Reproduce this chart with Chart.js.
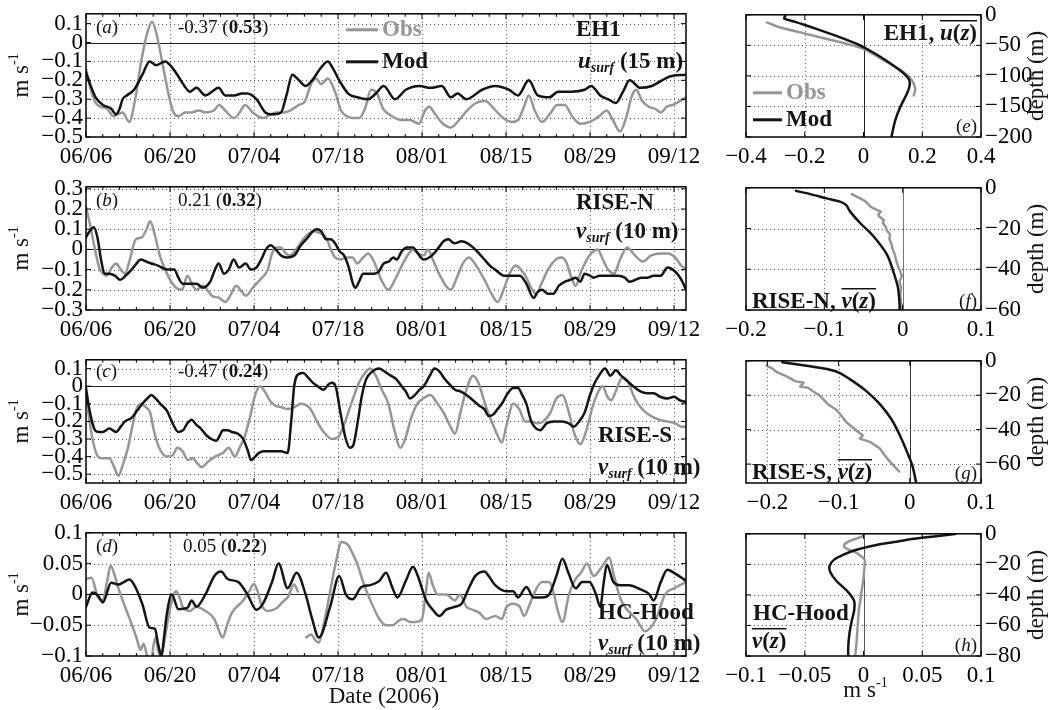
<!DOCTYPE html>
<html><head><meta charset="utf-8">
<script src="https://cdn.jsdelivr.net/npm/chart.js@4.4.1/dist/chart.umd.min.js"></script>
<style>
html,body{margin:0;padding:0;background:#fff;}
#wrap{position:relative;width:1060px;height:710px;overflow:hidden;background:#fff;}
canvas{position:absolute;}
</style></head><body><div id="wrap"></div>
<script>
const SERIF = '"Liberation Serif","Times New Roman",Times,serif';
const GRAY = 'rgb(150,150,150)';
const BLACK = 'rgb(20,20,20)';

// ---------- tick values / labels ----------
const dateTickDays = [0,14,28,42,56,70,84,98];
const dateTickLabels = ['06/06','06/20','07/04','07/18','08/01','08/15','08/29','09/12'];
const yTicksA = [0.1,0,-0.1,-0.2,-0.3,-0.4,-0.5];
const yTicksB = [0.3,0.2,0.1,0,-0.1,-0.2,-0.3];
const yTicksC = [0.1,0,-0.1,-0.2,-0.3,-0.4,-0.5];
const yTicksD = [0.1,0.05,0,-0.05,-0.1];
const velTicksE = [-0.4,-0.2,0,0.2,0.4];
const velTicksF = [-0.2,-0.1,0,0.1];
const velTicksG = [-0.2,-0.1,0,0.1];
const velTicksH = [-0.1,-0.05,0,0.05,0.1];
const depthTicksE = [0,-50,-100,-150,-200];
const depthTicksF = [0,-20,-40,-60];
const depthTicksG = [0,-20,-40,-60];
const depthTicksH = [0,-20,-40,-60,-80];

// ---------- time series: [day since 06/06, m/s] ----------
const obsA = [[0,-0.14],[0.8,-0.25],[1.6,-0.32],[2.5,-0.34],[3.5,-0.35],[4.6,-0.39],[5.3,-0.38],[6.1,-0.37],[7.2,-0.42],[8.2,-0.3],[9.2,-0.1],[10.2,0.05],[11,0.11],[11.8,0.04],[12.8,-0.12],[13.8,-0.28],[14.6,-0.37],[15.4,-0.39],[16.5,-0.37],[17.5,-0.37],[18.8,-0.36],[20,-0.37],[21.3,-0.36],[22.2,-0.33],[23.2,-0.36],[24.7,-0.4],[25.6,-0.37],[26.5,-0.33],[27.8,-0.37],[29.5,-0.4],[30.8,-0.38],[31.8,-0.37],[33,-0.37],[34,-0.36],[35.5,-0.33],[36.5,-0.31],[37.5,-0.22],[38.3,-0.19],[39.2,-0.22],[40.3,-0.19],[41.5,-0.26],[42.5,-0.36],[43.5,-0.39],[44.5,-0.4],[45.5,-0.4],[46.5,-0.35],[47.5,-0.25],[48.5,-0.27],[49.5,-0.35],[51,-0.39],[52.6,-0.41],[54,-0.41],[55.5,-0.43],[56.5,-0.36],[57.2,-0.34],[58.2,-0.38],[59.5,-0.43],[60.8,-0.45],[62.2,-0.41],[63.5,-0.36],[65,-0.32],[66.5,-0.31],[68,-0.35],[69.5,-0.4],[71,-0.42],[72,-0.41],[73,-0.34],[73.8,-0.28],[74.8,-0.36],[76,-0.42],[77.5,-0.37],[78.5,-0.33],[79.8,-0.33],[81,-0.39],[82.4,-0.43],[84,-0.42],[85.5,-0.39],[86.8,-0.36],[87.8,-0.41],[89,-0.47],[90,-0.4],[91,-0.28],[91.7,-0.25],[92.7,-0.31],[93.8,-0.34],[94.8,-0.35],[95.8,-0.37],[96.8,-0.34],[97.8,-0.33],[99,-0.31],[100,-0.29]];
const modA = [[0,-0.16],[0.8,-0.23],[1.6,-0.29],[2.8,-0.33],[4.2,-0.35],[5,-0.38],[5.6,-0.35],[6.1,-0.3],[6.8,-0.28],[8,-0.25],[9.4,-0.17],[10.6,-0.1],[11.7,-0.12],[13.2,-0.1],[14.3,-0.13],[15.4,-0.18],[16.4,-0.23],[17.3,-0.26],[18.4,-0.24],[19.9,-0.28],[21,-0.26],[22.1,-0.24],[23.2,-0.28],[24.7,-0.28],[26,-0.27],[26.9,-0.27],[28.4,-0.3],[29.9,-0.37],[31,-0.38],[32.5,-0.37],[33.4,-0.28],[34.4,-0.17],[35.5,-0.2],[36.6,-0.23],[37.7,-0.2],[39,-0.14],[40.3,-0.1],[41.2,-0.14],[42.2,-0.2],[43.7,-0.27],[45.2,-0.29],[47,-0.3],[48.3,-0.27],[49.6,-0.23],[51.5,-0.3],[53.3,-0.25],[55.6,-0.23],[57.4,-0.24],[59.3,-0.23],[60.8,-0.29],[61.9,-0.27],[63.4,-0.3],[66,-0.25],[68.2,-0.23],[70.5,-0.25],[72,-0.28],[73.8,-0.2],[75.3,-0.28],[77.2,-0.29],[78.7,-0.26],[80.9,-0.26],[83.1,-0.25],[84.2,-0.23],[85.7,-0.28],[87,-0.3],[88.3,-0.32],[89.5,-0.26],[90.6,-0.2],[92.4,-0.24],[94.3,-0.23],[96,-0.2],[97.3,-0.18],[100,-0.17]];
const obsB = [[0,0.21],[0.7,0.12],[1.5,0.0],[2.2,-0.09],[2.8,-0.12],[3.5,-0.13],[4.3,-0.09],[5,-0.07],[5.8,-0.1],[6.5,-0.12],[7.3,-0.05],[8.3,0.05],[9.3,0.06],[10.1,0.1],[10.7,0.14],[11.4,0.08],[12.3,-0.03],[13.2,-0.1],[14,-0.15],[15,-0.19],[16,-0.2],[16.9,-0.13],[17.8,-0.18],[18.4,-0.2],[19.5,-0.18],[21,-0.23],[22.2,-0.24],[23.2,-0.26],[24.2,-0.22],[25,-0.18],[26,-0.21],[26.6,-0.23],[27.8,-0.19],[29,-0.15],[30.3,-0.1],[31,-0.02],[31.8,0.01],[32.5,0.01],[33.3,-0.02],[34,-0.03],[35,0.0],[36.2,0.05],[37.2,0.08],[38,0.09],[39,0.08],[40,0.06],[40.8,0.0],[41.5,-0.04],[42.5,-0.05],[43.3,-0.04],[44.4,-0.04],[45.2,-0.07],[46.2,-0.04],[47,-0.02],[48,-0.06],[49.2,-0.15],[50.4,-0.2],[51.5,-0.15],[52.8,-0.07],[53.8,-0.02],[54.5,0.0],[55.4,-0.02],[56.3,-0.03],[57,0.0],[57.8,-0.05],[59,-0.13],[60.8,-0.2],[61.8,-0.14],[62.8,-0.07],[63.8,-0.04],[64.8,-0.07],[66.4,-0.15],[67.6,-0.22],[68.6,-0.26],[69.6,-0.2],[70.6,-0.12],[71.6,-0.08],[72.5,-0.1],[73.4,-0.14],[74.2,-0.19],[75,-0.22],[75.9,-0.17],[77,-0.1],[78.3,-0.05],[79.2,-0.04],[80,-0.06],[80.8,-0.13],[81.6,-0.18],[82.5,-0.11],[83.9,-0.03],[85.3,0.0],[86,-0.04],[87,-0.1],[88,-0.12],[89,-0.05],[90.2,0.01],[91.2,-0.02],[92.8,-0.06],[94.2,-0.03],[95.8,-0.02],[97,-0.02],[98.2,-0.04],[99.2,-0.08],[100,-0.1]];
const modB = [[0,0.06],[0.6,0.09],[1.3,0.11],[1.9,0.06],[2.5,-0.05],[3.1,-0.12],[3.9,-0.12],[4.8,-0.13],[5.7,-0.15],[6.6,-0.13],[7.6,-0.1],[8.4,-0.07],[9.1,-0.05],[10,-0.06],[10.9,-0.07],[12,-0.08],[13.5,-0.1],[14.7,-0.1],[15.4,-0.14],[16.1,-0.17],[17.3,-0.17],[18.4,-0.17],[19.5,-0.19],[20.7,-0.16],[21.5,-0.1],[22.1,-0.07],[23,-0.12],[23.8,-0.1],[24.6,-0.05],[25.5,-0.09],[26.6,-0.07],[27.5,-0.1],[28.4,-0.09],[29.2,-0.05],[30,0.0],[30.8,0.02],[31.6,0.0],[32.5,-0.03],[33.5,-0.04],[34.7,-0.03],[35.8,0.02],[37,0.06],[37.8,0.09],[38.5,0.1],[39.2,0.09],[40,0.05],[40.8,0.05],[41.5,0.03],[42.3,-0.01],[43,-0.03],[43.8,-0.09],[44.5,-0.17],[44.9,-0.19],[45.5,-0.16],[46.2,-0.12],[47,-0.12],[48,-0.12],[48.8,-0.11],[49.6,-0.07],[50.5,-0.06],[51.2,-0.04],[51.8,-0.05],[52.6,-0.01],[53.5,0.01],[54.5,0.01],[55.3,-0.02],[56.3,-0.05],[57.2,-0.04],[58,-0.02],[58.8,0.01],[59.6,0.04],[60.4,0.05],[61.4,0.03],[62.6,0.04],[63.6,0.03],[64.5,0.01],[65.5,-0.02],[66.4,-0.05],[67.3,-0.08],[68.2,-0.1],[69.7,-0.13],[71,-0.13],[72.3,-0.13],[73.4,-0.17],[74.6,-0.24],[75.3,-0.21],[76,-0.2],[77,-0.22],[77.9,-0.22],[78.8,-0.18],[79.8,-0.16],[80.8,-0.15],[81.6,-0.14],[82.4,-0.16],[83.1,-0.12],[84,-0.13],[84.6,-0.14],[85.6,-0.13],[86.8,-0.13],[87.7,-0.13],[88.7,-0.13],[89.8,-0.14],[90.6,-0.16],[91.6,-0.15],[92.6,-0.14],[93.6,-0.14],[94.6,-0.13],[95.8,-0.13],[96.9,-0.09],[97.8,-0.1],[98.8,-0.13],[99.4,-0.16],[100,-0.2]];
const obsC = [[0,-0.05],[0.6,-0.2],[1.2,-0.32],[2,-0.4],[2.8,-0.41],[3.9,-0.41],[4.7,-0.46],[5.4,-0.51],[6.1,-0.45],[7,-0.35],[7.6,-0.25],[8.4,-0.13],[9.2,-0.1],[10,-0.12],[10.7,-0.15],[11.3,-0.25],[12.2,-0.35],[13.5,-0.4],[14.5,-0.39],[15.2,-0.35],[16.1,-0.37],[17,-0.42],[17.8,-0.41],[18.6,-0.44],[19.3,-0.46],[20.3,-0.43],[21.5,-0.4],[22.8,-0.38],[23.8,-0.35],[24.8,-0.4],[25.6,-0.35],[26.5,-0.28],[27.3,-0.18],[28.1,-0.06],[29,0.0],[29.8,-0.03],[30.6,-0.08],[31.5,-0.11],[32.6,-0.12],[33.6,-0.13],[34.7,-0.12],[35.8,-0.1],[36.8,-0.11],[37.6,-0.14],[38.5,-0.2],[39.6,-0.26],[41,-0.3],[42,-0.29],[43,-0.22],[44.2,-0.1],[45.5,0.02],[46.6,0.08],[47.4,0.1],[48.3,0.06],[49.3,-0.02],[50.4,-0.1],[51.4,-0.25],[52.4,-0.35],[53.2,-0.3],[54.2,-0.18],[55.2,-0.1],[56.2,-0.07],[57.4,-0.05],[58.4,-0.09],[59.6,-0.15],[60.6,-0.22],[61.5,-0.27],[62.4,-0.15],[63.4,-0.02],[64.5,0.06],[65.4,0.02],[66.5,-0.1],[67.6,-0.2],[68.6,-0.28],[69.3,-0.32],[70.1,-0.22],[71.2,-0.1],[72.2,-0.13],[73.2,-0.2],[74.2,-0.2],[75.2,-0.21],[76.2,-0.2],[77.4,-0.15],[78.4,-0.07],[79.4,-0.05],[80.4,-0.14],[81.4,-0.27],[82.4,-0.33],[83.4,-0.25],[84.4,-0.12],[85.4,-0.03],[86.1,0.0],[86.9,-0.06],[87.5,-0.08],[88.4,-0.02],[89.4,0.05],[90.4,0.02],[91.2,-0.05],[92,-0.1],[93,-0.14],[94.2,-0.17],[95.5,-0.19],[96.8,-0.2],[98.2,-0.21],[99.2,-0.23],[100,-0.23]];
const modC = [[0,-0.01],[0.5,-0.12],[1,-0.2],[1.5,-0.25],[2.2,-0.26],[2.8,-0.26],[3.9,-0.24],[5,-0.26],[5.8,-0.23],[6.5,-0.2],[7.6,-0.18],[8.5,-0.14],[9.4,-0.1],[10.2,-0.07],[10.9,-0.05],[11.6,-0.07],[12.4,-0.1],[13.5,-0.14],[14.3,-0.2],[15.4,-0.26],[16.2,-0.25],[16.9,-0.21],[17.6,-0.19],[18.4,-0.22],[19.1,-0.24],[20.1,-0.28],[20.9,-0.3],[21.7,-0.31],[22.3,-0.28],[22.8,-0.25],[23.6,-0.25],[24.3,-0.26],[25.3,-0.27],[26.2,-0.3],[27,-0.37],[27.5,-0.42],[28.2,-0.4],[28.8,-0.38],[29.6,-0.37],[30.5,-0.37],[31.5,-0.37],[32.5,-0.37],[33.6,-0.38],[34.2,-0.2],[34.7,0.0],[35.5,0.07],[36.2,0.075],[37,0.05],[37.8,0.02],[38.6,0.0],[39.6,-0.02],[40.4,0.01],[41,0.02],[41.6,0.0],[42.4,-0.15],[43.3,-0.3],[44,-0.35],[44.6,-0.33],[45.3,-0.2],[46,-0.05],[46.7,0.04],[47.6,0.08],[48.8,0.1],[49.9,0.08],[50.8,0.06],[51.7,0.04],[52.6,0.0],[53.3,-0.03],[54,-0.07],[54.8,-0.05],[55.6,-0.02],[56.3,0.0],[57.3,0.06],[58.1,0.1],[59,0.08],[59.6,0.05],[60.6,0.01],[61.5,-0.02],[62.4,-0.03],[63.4,-0.05],[64.5,-0.08],[65.5,-0.11],[66.4,-0.13],[67.1,-0.17],[67.9,-0.16],[68.6,-0.13],[69.3,-0.1],[70.3,-0.04],[71.2,-0.01],[72,-0.01],[72.7,-0.05],[73.4,-0.1],[74.2,-0.2],[75,-0.24],[75.7,-0.25],[76.8,-0.21],[78,-0.2],[79.4,-0.2],[80.4,-0.21],[81.3,-0.23],[82.2,-0.2],[83.1,-0.15],[84,-0.05],[84.8,0.02],[85.5,0.06],[86.5,0.1],[87.4,0.06],[88.3,0.09],[89.2,0.06],[90.2,0.03],[91.2,0.0],[92.4,-0.03],[93.5,-0.04],[94.6,-0.04],[95.7,-0.06],[96.9,-0.07],[98,-0.06],[99,-0.08],[100,-0.09]];
const obsD = [[0,0.025],[0.9,0.027],[2,-0.005],[2.8,-0.01],[3.5,0.02],[4.1,0.047],[4.8,0.03],[5.4,0.01],[6.5,-0.02],[7.6,-0.048],[8.4,-0.07],[9.1,-0.09],[9.6,-0.08],[10.2,-0.1],[10.8,-0.11],[11.3,-0.08],[11.6,-0.07],[12,-0.09],[12.4,-0.1],[13,-0.08],[13.5,-0.05],[14.2,-0.015],[15,0.005],[15.6,-0.005],[16.1,-0.02],[17.3,-0.027],[18.4,-0.02],[19.9,-0.027],[21.4,-0.04],[22.2,-0.06],[22.8,-0.07],[23.5,-0.05],[24.3,-0.03],[26.2,-0.01],[27.2,0.005],[28,0.017],[28.6,0.005],[29.2,-0.016],[30.3,-0.027],[31.8,-0.022],[33,-0.01],[33.6,-0.005],[34.7,0.016],[35.3,0.005],[35.9,null],[36.7,-0.07],[37.5,-0.065],[38.3,-0.075],[38.8,-0.078],[39.6,-0.05],[40.6,0.0],[41.6,0.05],[42.6,0.085],[43.7,0.08],[44.5,0.065],[45.2,0.05],[46.2,0.02],[47.4,-0.01],[48.9,-0.04],[50,-0.05],[51.1,-0.05],[52.2,-0.042],[53,-0.04],[54,-0.045],[54.8,-0.045],[56,-0.04],[56.6,0.0],[57.1,0.035],[57.8,0.015],[58.6,0.0],[60,0.0],[61.5,-0.01],[62.3,0.0],[63.4,-0.02],[64.5,-0.025],[65.6,-0.03],[66.7,-0.04],[68.2,-0.035],[69.3,-0.04],[70.1,-0.02],[71.2,-0.015],[72.3,-0.02],[73,-0.035],[73.8,-0.02],[74.6,0.0],[76,0.02],[77.2,0.02],[78,0.0],[78.6,-0.025],[79.4,-0.045],[80.5,0.0],[81.6,0.025],[82.5,0.035],[83.5,0.05],[84.6,0.03],[86,0.045],[87.2,0.06],[88,0.03],[89,-0.005],[89.8,-0.02],[91.7,-0.04],[93.2,-0.06],[95,-0.04],[96.5,0.0],[98,0.01],[100,0.02]];
const modD = [[0,-0.02],[1.1,0.003],[2,-0.002],[2.8,-0.013],[4.2,0.019],[5.4,0.016],[6.3,0.02],[7.2,0.024],[8,0.016],[9.4,-0.016],[10.6,-0.054],[11.5,-0.056],[12,-0.08],[12.6,-0.1],[13,-0.07],[13.5,-0.03],[14.3,0.0],[15.4,-0.024],[16.9,-0.022],[17.6,-0.01],[18.4,-0.02],[19.9,0.0],[21.4,0.03],[22.5,0.037],[23.6,0.025],[25.4,0.02],[26.9,0.0],[28.4,-0.025],[29.5,-0.015],[31,0.02],[32.1,0.05],[33.6,0.01],[35.1,0.035],[36.6,0.0],[37.7,-0.04],[38.8,-0.07],[40.7,-0.02],[42.2,0.03],[43.3,0.0],[44.4,-0.008],[45.9,0.012],[47.4,0.015],[48.9,0.022],[50,0.035],[51.1,0.01],[51.9,-0.005],[53.3,0.022],[54.5,0.045],[55.3,0.03],[56.7,-0.01],[57.8,-0.025],[58.9,-0.035],[60,-0.025],[61.5,-0.02],[62.6,-0.015],[63.8,0.01],[64.9,0.03],[66.4,0.037],[67.1,0.03],[68.2,0.015],[70.1,0.005],[71.2,0.005],[72,-0.005],[73.4,0.012],[74.6,-0.005],[76,-0.005],[77.2,0.0],[78.4,0.03],[79.4,0.058],[80.4,0.035],[81.6,0.01],[82.7,0.02],[83.9,0.02],[85,0.0],[85.7,-0.02],[86.3,0.02],[86.8,0.048],[87.9,0.02],[89,0.015],[90.5,0.015],[92,0.01],[93.9,0.0],[94.6,-0.01],[95.8,0.02],[96.9,0.04],[98,0.035],[100,0.022]];

// ---------- mean profiles: [m/s, depth m] ----------
const obsE = [[-0.329,-12.5],[-0.283,-20.7],[-0.215,-28.8],[-0.124,-39.7],[-0.033,-50.5],[0.012,-58.7],[0.08,-77.7],[0.137,-94],[0.165,-107.6],[0.176,-121],[0.171,-132]];
const modE = [[-0.266,-1.6],[-0.27,-6],[-0.24,-10.5],[-0.21,-15],[-0.158,-23.4],[-0.079,-37],[-0.022,-47.8],[0.012,-56],[0.069,-72.3],[0.125,-91.3],[0.154,-105],[0.157,-115.8],[0.148,-129],[0.125,-151],[0.108,-172.8],[0.095,-200]];
const obsF = [[-0.065,-3.1],[-0.058,-4.5],[-0.05,-6],[-0.045,-7.5],[-0.041,-9.3],[-0.035,-10.5],[-0.028,-11.7],[-0.031,-13],[-0.03,-14.1],[-0.024,-15.8],[-0.025,-17.5],[-0.022,-19],[-0.02,-21],[-0.016,-23],[-0.017,-25],[-0.014,-28],[-0.013,-30],[-0.01,-32.8],[-0.008,-36],[-0.006,-38.5],[-0.003,-41],[-0.001,-43.4],[-0.004,-45.9],[-0.002,-49],[-0.003,-52.4],[-0.002,-57.2],[-0.001,-60]];
const modF = [[-0.136,-1.5],[-0.118,-3.1],[-0.097,-5.2],[-0.08,-6.8],[-0.072,-8.5],[-0.067,-11.7],[-0.054,-17.4],[-0.037,-23.9],[-0.02,-32.8],[-0.012,-41],[-0.006,-49],[-0.004,-57.2],[-0.004,-60]];
const obsG = [[-0.201,-2.9],[-0.194,-4.2],[-0.187,-6.5],[-0.173,-9],[-0.161,-11.8],[-0.149,-12.8],[-0.154,-15],[-0.143,-15.6],[-0.135,-18],[-0.126,-20.4],[-0.12,-23],[-0.115,-25.2],[-0.105,-28],[-0.098,-30.9],[-0.089,-35.7],[-0.075,-40.5],[-0.066,-43.3],[-0.07,-45.2],[-0.056,-47.1],[-0.042,-51],[-0.035,-55],[-0.028,-58.6],[-0.015,-64.3]];
const modG = [[-0.179,-0.8],[-0.145,-2.9],[-0.112,-5.2],[-0.098,-7.1],[-0.08,-11.8],[-0.061,-17.6],[-0.042,-25.2],[-0.026,-33.8],[-0.015,-42.4],[-0.003,-53.8],[0.004,-61.5],[0.009,-71]];
const obsH = [[-0.001,-1.7],[-0.011,-4.5],[-0.016,-6.7],[-0.016,-8.9],[-0.006,-12.5],[0.001,-16.9],[0.001,-20.1],[0.0,-28.8],[-0.002,-39.6],[-0.004,-50.4],[-0.005,-61.2],[-0.006,-72],[-0.007,-79.6]];
const modH = [[0.078,-0.2],[0.06,-1.7],[0.043,-3.2],[0.026,-5.4],[0.009,-7.6],[-0.006,-10.4],[-0.017,-13.6],[-0.025,-16.9],[-0.029,-21.2],[-0.028,-25.5],[-0.023,-30.9],[-0.014,-37.4],[-0.008,-43.9],[-0.008,-50.4],[-0.01,-56.9],[-0.012,-65.5],[-0.013,-74.2],[-0.013,-80]];

// ---------- helpers ----------
const f = (style, size) => `${style} ${size}px ${SERIF}`.trim();
function fmtNum(v){ if (v===0) return '0'; return (v<0?'\u2212':'') + String(Math.abs(v)); }
function toXY(arr){ return arr.map(p => ({x:p[0], y:p[1]})); }

function drawRuns(ctx, runs, x, y, align){
  ctx.save();
  ctx.textBaseline = 'middle'; ctx.textAlign = 'left';
  let total = 0;
  for (const r of runs){ ctx.font = r.f; r.w = ctx.measureText(r.t).width; total += r.w; }
  let cx = align==='right' ? x-total : align==='center' ? x-total/2 : x;
  let o0 = null, o1 = null, oy = 0;
  for (const r of runs){
    ctx.font = r.f; ctx.fillStyle = r.c || BLACK;
    ctx.fillText(r.t, cx, y + (r.dy||0));
    if (r.o){ if (o0===null) o0 = cx; o1 = cx + r.w; oy = y - 13; }
    cx += r.w;
  }
  if (o0!==null){
    ctx.strokeStyle = BLACK; ctx.lineWidth = 1.5; ctx.beginPath();
    ctx.moveTo(o0, oy); ctx.lineTo(o1, oy); ctx.stroke();
  }
  ctx.restore();
}
function letter(ch){ return [{t:'(',f:f('',19)},{t:ch,f:f('italic',19)},{t:')',f:f('',19)}]; }
function stats(a,b){ return [{t:a+' (',f:f('',19)},{t:b,f:f('bold',19)},{t:')',f:f('',19)}]; }
function surf(c,d){ return [{t:c,f:f('italic bold',23)},{t:'surf',f:f('italic bold',14),dy:7},{t:' ('+d+' m)',f:f('bold',23)}]; }
function meanv(c,prefix){
  const r = prefix ? [{t:prefix,f:f('bold',23)}] : [];
  return r.concat([{t:c,f:f('italic bold',23),o:true},{t:'(',f:f('bold',23),o:true},{t:'z',f:f('italic bold',23),o:true},{t:')',f:f('bold',23),o:true}]);
}
function legendLine(ctx, x0, x1, y, color){
  ctx.save(); ctx.strokeStyle = color; ctx.lineWidth = 3; ctx.beginPath();
  ctx.moveTo(x0,y); ctx.lineTo(x1,y); ctx.stroke(); ctx.restore();
}
function msUnit(ctx, x, y, rotate){
  ctx.save(); ctx.translate(x,y); if (rotate) ctx.rotate(-Math.PI/2);
  drawRuns(ctx, [{t:'m s',f:f('',23)},{t:'-1',f:f('',14),dy:-8}], 0, 0, 'center');
  ctx.restore();
}

function framePlugin(cfg){
  return {
    id: 'frame',
    beforeDatasetsDraw(chart){
      const {ctx, chartArea:a, scales:{x,y}} = chart;
      ctx.save();
      ctx.strokeStyle = '#555'; ctx.lineWidth = 1; ctx.setLineDash([1,3]);
      ctx.beginPath();
      for (const v of cfg.xTicks){
        if (cfg.zero==='x' && v===0) continue;
        const px = Math.round(x.getPixelForValue(v))+0.5;
        if (px<=a.left+1 || px>=a.right-1) continue;
        ctx.moveTo(px,a.top); ctx.lineTo(px,a.bottom);
      }
      for (const v of cfg.yTicks){
        if (cfg.zero==='y' && v===0) continue;
        const py = Math.round(y.getPixelForValue(v))+0.5;
        if (py<=a.top+1 || py>=a.bottom-1) continue;
        ctx.moveTo(a.left,py); ctx.lineTo(a.right,py);
      }
      ctx.stroke();
      ctx.setLineDash([]);
      ctx.strokeStyle = cfg.zeroColor || '#222'; ctx.lineWidth = 1; ctx.beginPath();
      if (cfg.zero==='y'){ const py = Math.round(y.getPixelForValue(0))+0.5; ctx.moveTo(a.left,py); ctx.lineTo(a.right,py); }
      else { const px = Math.round(x.getPixelForValue(0))+0.5; ctx.moveTo(px,a.top); ctx.lineTo(px,a.bottom); }
      ctx.stroke();
      ctx.restore();
    },
    afterDatasetsDraw(chart){
      const {ctx, chartArea:a, scales:{x,y}} = chart;
      ctx.save();
      ctx.strokeStyle = '#000'; ctx.lineWidth = 1; ctx.beginPath();
      for (const v of cfg.xTicks){ const px = x.getPixelForValue(v);
        ctx.moveTo(px,a.bottom); ctx.lineTo(px,a.bottom-5); ctx.moveTo(px,a.top); ctx.lineTo(px,a.top+5); }
      if (cfg.minorX){ for (const v of cfg.minorX){ const px = x.getPixelForValue(v);
        ctx.moveTo(px,a.bottom); ctx.lineTo(px,a.bottom-3); ctx.moveTo(px,a.top); ctx.lineTo(px,a.top+3); } }
      for (const v of cfg.yTicks){ const py = y.getPixelForValue(v);
        ctx.moveTo(a.left,py); ctx.lineTo(a.left+5,py); ctx.moveTo(a.right,py); ctx.lineTo(a.right-5,py); }
      ctx.stroke();
      ctx.lineWidth = 1.5; ctx.strokeRect(a.left, a.top, a.right-a.left, a.bottom-a.top);
      ctx.restore();
      if (cfg.texts) cfg.texts(ctx, a);
    }
  };
}

function buildChart(o){
  const cv = document.createElement('canvas');
  cv.width = o.w; cv.height = o.h;
  cv.style.left = o.left+'px'; cv.style.top = o.top+'px';
  cv.style.width = o.w+'px'; cv.style.height = o.h+'px';
  document.getElementById('wrap').appendChild(cv);
  const tickFont = {family:SERIF, size:23};
  return new Chart(cv.getContext('2d'), {
    type:'line',
    data:{datasets:o.datasets},
    options:{
      responsive:false, animation:false, devicePixelRatio:1, indexAxis:o.indexAxis||'x',
      layout:{padding:o.padding},
      plugins:{legend:{display:false}, tooltip:{enabled:false}},
      elements:{point:{radius:0, hoverRadius:0}},
      scales:{
        x:{type:'linear', position:'bottom', min:o.xMin, max:o.xMax,
           grid:{display:false, drawTicks:false}, border:{display:false},
           afterBuildTicks:s=>{ s.ticks = o.xTicks.map(v=>({value:v})); },
           afterFit:s=>{ s.height = o.xHeight; },
           ticks:{autoSkip:false, maxRotation:0, minRotation:0, padding:6, color:'#000', font:tickFont, callback:o.xFmt}},
        y:{type:'linear', position:o.yPos, min:o.yMin, max:o.yMax,
           grid:{display:false, drawTicks:false}, border:{display:false},
           afterBuildTicks:s=>{ s.ticks = o.yTicks.map(v=>({value:v})); },
           afterFit:s=>{ s.width = o.yWidth; },
           ticks:{autoSkip:false, padding:o.yPad, color:'#000', font:tickFont, callback:o.yFmt}}
      }
    },
    plugins:[framePlugin({xTicks:o.xTicks, yTicks:o.yTicks, minorX:o.minorX, zero:o.zero, zeroColor:o.zeroColor, texts:o.texts})]
  });
}

function ds(arr, color, smooth){
  const d = {data:toXY(arr), borderColor:color, borderWidth:2.5, pointRadius:0, fill:false,
             borderJoinStyle:'round', borderCapStyle:'round', spanGaps:false};
  if (smooth==='mono'){ d.cubicInterpolationMode = 'monotone'; }
  else { d.tension = smooth||0; }
  return d;
}

// ---------- layout ----------
const TOPS = [13, 186, 359, 532];
const PH = 124, PADT = 16;
const minorDays = [];
for (let k=1; k*2.8<100; k++){ if (k%5) minorDays.push(+(k*2.8).toFixed(1)); }
const dateFmt = v => dateTickLabels[dateTickDays.indexOf(v)];

const leftPanels = [
  {ymin:-0.5, ymax:0.152, yt:yTicksA, obs:obsA, mod:modA, texts:(ctx,a)=>{
    drawRuns(ctx, letter('a'), a.left+10, a.top+14);
    drawRuns(ctx, stats('-0.37','0.53'), a.left+92, a.top+14);
    legendLine(ctx, a.left+260, a.left+292, a.top+16, GRAY);
    drawRuns(ctx, [{t:'Obs',f:f('bold',23),c:GRAY}], a.left+296, a.top+16);
    legendLine(ctx, a.left+260, a.left+292, a.top+48, BLACK);
    drawRuns(ctx, [{t:'Mod',f:f('bold',23)}], a.left+296, a.top+48);
    drawRuns(ctx, [{t:'EH1',f:f('bold',23)}], a.left+490, a.top+16);
    drawRuns(ctx, surf('u','15'), a.left+492, a.top+48);
  }},
  {ymin:-0.3, ymax:0.31, yt:yTicksB, obs:obsB, mod:modB, texts:(ctx,a)=>{
    drawRuns(ctx, letter('b'), a.left+10, a.top+14);
    drawRuns(ctx, stats('0.21','0.32'), a.left+92, a.top+14);
    drawRuns(ctx, [{t:'RISE-N',f:f('bold',23)}], a.left+490, a.top+16);
    drawRuns(ctx, surf('v','10'), a.left+490, a.top+45);
  }},
  {ymin:-0.55, ymax:0.15, yt:yTicksC, obs:obsC, mod:modC, texts:(ctx,a)=>{
    drawRuns(ctx, letter('c'), a.left+10, a.top+12);
    drawRuns(ctx, stats('-0.47','0.24'), a.left+92, a.top+12);
    drawRuns(ctx, [{t:'RISE-S',f:f('bold',23)}], a.left+512, a.top+76);
    drawRuns(ctx, surf('v','10'), a.left+512, a.top+108);
  }},
  {ymin:-0.1, ymax:0.1, yt:yTicksD, obs:obsD, mod:modD, bottomExtra:true, texts:(ctx,a)=>{
    drawRuns(ctx, letter('d'), a.left+10, a.top+14);
    drawRuns(ctx, stats('0.05','0.22'), a.left+97, a.top+14);
    drawRuns(ctx, [{t:'HC-Hood',f:f('bold',23)}], a.left+512, a.top+80);
    drawRuns(ctx, surf('v','10'), a.left+512, a.top+111);
    drawRuns(ctx, [{t:'Date (2006)',f:f('',23)}], a.left+298, a.bottom+41, 'center');
  }}
];

leftPanels.forEach((p,i)=>{
  const extra = p.bottomExtra ? 14 : 0;
  const userTexts = p.texts;
  buildChart({
    left:0, top:TOPS[i]-PADT, w:710, h:PADT+PH+40+extra,
    padding:{top:PADT, right:24, left:0, bottom:extra},
    xMin:0, xMax:100, xTicks:dateTickDays, xFmt:dateFmt, minorX:minorDays, xHeight:40,
    yMin:p.ymin, yMax:p.ymax, yTicks:p.yt, yFmt:fmtNum, yPos:'left', yWidth:86, yPad:3,
    zero:'y',
    datasets:[ds(p.mod, BLACK, 'mono'), ds(p.obs, GRAY, 'mono')],
    texts:(ctx,a)=>{ userTexts(ctx,a); msUnit(ctx, 22, (a.top+a.bottom)/2, true); }
  });
});

const rightPanels = [
  {xmin:-0.4, xmax:0.4, xt:velTicksE, ymin:-200, ymax:0, yt:depthTicksE, obs:obsE, mod:modE, obsSmooth:0.35, zc:'#222', texts:(ctx,a)=>{
    drawRuns(ctx, [{t:'EH1, ',f:f('bold',23)}].concat(meanv('u')), a.right-4, a.top+19, 'right');
    legendLine(ctx, a.left+7, a.left+36, a.top+78, GRAY);
    drawRuns(ctx, [{t:'Obs',f:f('bold',23),c:GRAY}], a.left+40, a.top+78);
    legendLine(ctx, a.left+7, a.left+36, a.top+105, BLACK);
    drawRuns(ctx, [{t:'Mod',f:f('bold',23)}], a.left+40, a.top+105);
    drawRuns(ctx, letter('e'), a.right-4, a.top+112, 'right');
  }},
  {xmin:-0.2, xmax:0.1, xt:velTicksF, ymin:-60, ymax:0, yt:depthTicksF, obs:obsF, mod:modF, obsSmooth:0, zc:'#777', texts:(ctx,a)=>{
    drawRuns(ctx, meanv('v','RISE-N, '), a.left+6, a.top+114);
    drawRuns(ctx, letter('f'), a.right-4, a.top+114, 'right');
  }},
  {xmin:-0.23, xmax:0.1, xt:velTicksG, ymin:-71, ymax:0, yt:depthTicksG, obs:obsG, mod:modG, obsSmooth:0, zc:'#333', texts:(ctx,a)=>{
    drawRuns(ctx, meanv('v','RISE-S, '), a.left+6, a.top+112);
    drawRuns(ctx, letter('g'), a.right-4, a.top+113, 'right');
  }},
  {xmin:-0.1, xmax:0.1, xt:velTicksH, ymin:-80, ymax:0, yt:depthTicksH, obs:obsH, mod:modH, obsSmooth:0.3, zc:'#555', bottomExtra:true, texts:(ctx,a)=>{
    drawRuns(ctx, [{t:'HC-Hood',f:f('bold',23)}], a.left+7, a.top+80);
    drawRuns(ctx, meanv('v'), a.left+6, a.top+108);
    drawRuns(ctx, letter('h'), a.right-4, a.top+112, 'right');
    msUnit(ctx, (a.left+a.right)/2+2, a.bottom+35, false);
  }}
];

rightPanels.forEach((p,i)=>{
  const extra = p.bottomExtra ? 14 : 0;
  const userTexts = p.texts;
  buildChart({
    left:700, top:TOPS[i]-PADT, w:360, h:PADT+PH+40+extra,
    padding:{top:PADT, right:0, left:46, bottom:extra},
    xMin:p.xmin, xMax:p.xmax, xTicks:p.xt, xFmt:fmtNum, xHeight:40,
    yMin:p.ymin, yMax:p.ymax, yTicks:p.yt, yFmt:fmtNum, yPos:'right', yWidth:79, yPad:4,
    zero:'x', zeroColor:p.zc, indexAxis:'y',
    datasets:[ds(p.mod, BLACK, 0.3), ds(p.obs, GRAY, p.obsSmooth)],
    texts:(ctx,a)=>{
      userTexts(ctx,a);
      ctx.save(); ctx.translate(a.right+56, (a.top+a.bottom)/2); ctx.rotate(-Math.PI/2);
      drawRuns(ctx, [{t:'depth (m)',f:f('',23)}], 0, 0, 'center'); ctx.restore();
    }
  });
});
</script></body></html>
